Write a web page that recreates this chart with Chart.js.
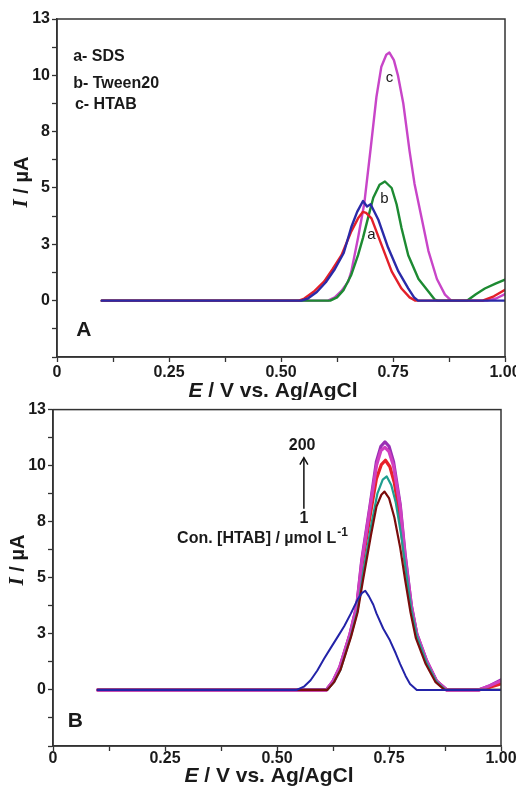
<!DOCTYPE html>
<html><head><meta charset="utf-8">
<script src="https://cdn.jsdelivr.net/npm/chart.js@4.4.1/dist/chart.umd.min.js"></script>
<style>
html,body{margin:0;padding:0;background:#fff;width:516px;height:787px;overflow:hidden;position:relative}
canvas{position:absolute}
#cA{left:0;top:0}
#cB{left:-4px;top:398px}
</style></head><body>
<canvas id="cA" width="540" height="400"></canvas>
<canvas id="cB" width="540" height="389"></canvas>
<script>
// ---------- axis ticks ----------
const xTickValues = [0, 0.125, 0.25, 0.375, 0.5, 0.625, 0.75, 0.875, 1];
const xTickLabels = ['0', '', '0.25', '', '0.50', '', '0.75', '', '1.00'];
const yTickValues = [-2.6, -1.3, 0, 1.3, 2.6, 3.9, 5.2, 6.5, 7.8, 9.1, 10.4, 11.7, 13];
const yTickLabels = ['', '', '0', '', '3', '', '5', '', '8', '', '10', '', '13'];

// ---------- panel A : [E (V), I (uA)] ----------
const blankA = [[0.1,0],[0.545,0],[0.56,0.1],[0.58,0.4],[0.60,0.85],[0.62,1.45],[0.64,2.2],[0.657,3.4],[0.67,4.1],[0.683,4.6],[0.692,4.35],[0.70,4.45],[0.717,3.75],[0.739,2.45],[0.762,1.35],[0.784,0.57],[0.797,0.15],[0.806,0],[1.0,0]];
const sdsA = [[0.1,0],[0.54,0],[0.552,0.1],[0.575,0.45],[0.596,0.88],[0.615,1.45],[0.635,2.1],[0.657,3.2],[0.672,3.8],[0.683,4.1],[0.69,4.05],[0.702,3.8],[0.724,2.6],[0.747,1.35],[0.769,0.56],[0.787,0.15],[0.80,0],[0.95,0],[0.975,0.2],[1.0,0.5]];
const tweenA = [[0.1,0],[0.61,0],[0.625,0.15],[0.64,0.5],[0.657,1.2],[0.672,2.1],[0.683,2.9],[0.694,3.8],[0.706,4.75],[0.72,5.35],[0.732,5.5],[0.747,5.2],[0.758,4.45],[0.769,3.35],[0.784,2.1],[0.807,1.0],[0.829,0.42],[0.843,0.05],[0.85,0],[0.915,0],[0.935,0.3],[0.955,0.56],[0.98,0.8],[1.0,0.97]];
const htabA = [[0.1,0],[0.605,0],[0.62,0.15],[0.635,0.45],[0.65,0.88],[0.657,1.35],[0.672,2.9],[0.686,4.5],[0.70,7.0],[0.713,9.4],[0.724,10.8],[0.735,11.35],[0.742,11.45],[0.752,11.1],[0.761,10.4],[0.773,9.1],[0.787,6.9],[0.798,5.4],[0.814,3.8],[0.829,2.3],[0.848,1.0],[0.866,0.28],[0.88,0],[0.96,0],[0.98,0.1],[1.0,0.3]];

// ---------- panel B : [E (V), I (uA)] ----------
const blankB = [[0.1,0],[0.544,0],[0.56,0.15],[0.575,0.45],[0.59,0.9],[0.605,1.45],[0.62,1.95],[0.635,2.45],[0.65,2.95],[0.665,3.55],[0.68,4.2],[0.69,4.5],[0.697,4.6],[0.705,4.35],[0.715,3.95],[0.722,3.55],[0.737,2.85],[0.752,2.3],[0.765,1.7],[0.775,1.2],[0.787,0.65],[0.797,0.28],[0.812,0],[1.0,0]];
const htab1B = [[0.1,0],[0.612,0],[0.627,0.35],[0.642,0.95],[0.665,2.45],[0.68,3.6],[0.692,5.1],[0.71,7.2],[0.722,8.5],[0.733,9.05],[0.74,9.2],[0.75,8.9],[0.762,8.0],[0.775,6.6],[0.786,5.1],[0.798,3.6],[0.81,2.4],[0.832,1.2],[0.854,0.36],[0.874,0],[1.0,0]];
const htab2B = [[0.1,0],[0.612,0],[0.627,0.35],[0.642,0.95],[0.665,2.5],[0.68,3.7],[0.692,5.4],[0.71,7.6],[0.724,9.1],[0.736,9.75],[0.745,9.9],[0.755,9.5],[0.765,8.7],[0.777,7.2],[0.788,5.5],[0.80,3.7],[0.812,2.5],[0.834,1.25],[0.856,0.38],[0.876,0],[1.0,0]];
const htab3B = [[0.1,0],[0.61,0],[0.625,0.4],[0.64,1.05],[0.663,2.6],[0.678,3.9],[0.689,5.9],[0.708,8.5],[0.722,10.4],[0.732,11.1],[0.741,11.25],[0.75,11.05],[0.76,10.4],[0.775,8.5],[0.786,6.2],[0.80,3.9],[0.812,2.6],[0.834,1.35],[0.856,0.42],[0.879,0],[0.95,0],[0.975,0.2],[1.0,0.42]];
const htab4B = [[0.1,0],[0.61,0],[0.625,0.4],[0.64,1.05],[0.663,2.6],[0.678,3.9],[0.689,6.0],[0.708,8.6],[0.722,10.6],[0.732,11.3],[0.741,11.5],[0.75,11.3],[0.76,10.6],[0.775,8.6],[0.786,6.3],[0.80,3.9],[0.812,2.6],[0.834,1.35],[0.856,0.42],[0.879,0],[0.95,0],[0.975,0.2],[1.0,0.46]];
const htab5B = [[0.1,0],[0.61,0],[0.625,0.38],[0.64,1.0],[0.663,2.55],[0.678,3.8],[0.689,5.7],[0.708,8.1],[0.722,9.8],[0.733,10.45],[0.742,10.65],[0.752,10.35],[0.762,9.6],[0.775,7.9],[0.786,5.9],[0.80,3.8],[0.812,2.55],[0.834,1.3],[0.856,0.4],[0.879,0],[0.95,0],[0.975,0.12],[1.0,0.28]];

// ---------- text ----------
const xTitleMain = 'E';
const xTitleRest = ' / V vs. Ag/AgCl';
const yTitleMain = 'I';
const yTitleRest = ' / µA';

const SANS = "'Liberation Sans', Arial, Helvetica, sans-serif";
const SERIF = "'Liberation Serif', 'Times New Roman', serif";

const pts = arr => arr.map(([x, y]) => ({x, y}));
const ds = (label, arr, color, w) => ({label, data: pts(arr), borderColor: color, backgroundColor: color, borderWidth: w, pointRadius: 0, tension: 0, borderJoinStyle: 'round', borderCapStyle: 'round', fill: false});

const decorPlugin = {
  id: 'decor',
  afterDraw(chart, args, o) {
    const {ctx, chartArea: a, scales: {x, y}} = chart;
    ctx.save();
    ctx.strokeStyle = '#333'; ctx.lineWidth = 1.5;
    ctx.strokeRect(a.left, a.top, a.right - a.left, a.bottom - a.top);
    ctx.fillStyle = '#1a1a1a';
    ctx.textBaseline = 'middle';
    for (const t of o.texts) {
      ctx.font = t.font; ctx.textAlign = t.align || 'left';
      const px = x.getPixelForValue(t.e), py = y.getPixelForValue(t.i);
      ctx.fillText(t.text, px, py);
      if (t.sup) {
        const w = ctx.measureText(t.text).width;
        ctx.font = t.supFont; ctx.textAlign = 'left';
        ctx.fillText(t.sup, px + w + 1, py - 6);
      }
    }
    if (o.arrow) {
      const ax = x.getPixelForValue(o.arrow.e), y0 = y.getPixelForValue(o.arrow.from), y1 = y.getPixelForValue(o.arrow.to);
      ctx.strokeStyle = '#111'; ctx.lineWidth = 1.5;
      ctx.beginPath(); ctx.moveTo(ax, y0); ctx.lineTo(ax, y1); ctx.stroke();
      ctx.beginPath(); ctx.moveTo(ax - 4, y1 + 7); ctx.lineTo(ax, y1); ctx.lineTo(ax + 4, y1 + 7); ctx.stroke();
    }
    // x title (mixed italic)
    const fI = 'italic bold 21px ' + SANS, fR = 'bold 21px ' + SANS;
    ctx.font = fI; const w1 = ctx.measureText(xTitleMain).width;
    ctx.font = fR; const w2 = ctx.measureText(xTitleRest).width;
    let cx = (a.left + a.right) / 2 + o.xTitleShift - (w1 + w2) / 2;
    const ty = chart.height - o.xTitleFromBottom;
    ctx.textAlign = 'left';
    ctx.font = fI; ctx.fillText(xTitleMain, cx, ty);
    ctx.font = fR; ctx.fillText(xTitleRest, cx + w1, ty);
    // y title
    ctx.translate(o.yTitleX, o.yTitleY);
    ctx.rotate(-Math.PI / 2);
    const gI = 'italic bold 21px ' + SERIF, gR = 'bold 20px ' + SANS;
    ctx.font = gI; const v1 = ctx.measureText(yTitleMain).width;
    ctx.font = gR; const v2 = ctx.measureText(yTitleRest).width;
    let sx = -(v1 + v2) / 2;
    ctx.font = gI; ctx.fillText(yTitleMain, sx, 0);
    ctx.font = gR; ctx.fillText(yTitleRest, sx + v1, 0);
    ctx.restore();
  }
};

function makeChart(id, datasets, padTop, xAxisH, xTickPad, decor) {
  return new Chart(document.getElementById(id), {
    type: 'line',
    data: {datasets},
    options: {
      responsive: false, animation: false, devicePixelRatio: 1,
      layout: {padding: {top: padTop, left: 0, right: 35, bottom: 0}},
      plugins: {legend: {display: false}, tooltip: {enabled: false}, decor},
      scales: {
        x: {
          type: 'linear', min: 0, max: 1,
          afterBuildTicks: s => { s.ticks = xTickValues.map(v => ({value: v})); },
          afterFit: s => { s.height = xAxisH; },
          ticks: {autoSkip: false, maxRotation: 0, padding: xTickPad, color: '#1a1a1a', font: {family: SANS, size: 16, weight: 'bold'}, callback: (v, i) => xTickLabels[i]},
          grid: {drawOnChartArea: false, drawTicks: true, tickLength: 5, tickColor: '#333', tickWidth: 1.3},
          border: {display: true, color: '#333', width: 1.5}
        },
        y: {
          type: 'linear', min: -2.6, max: 13,
          afterBuildTicks: s => { s.ticks = yTickValues.map(v => ({value: v})); },
          afterFit: s => { s.width = 57; },
          ticks: {autoSkip: false, padding: 2, color: '#1a1a1a', font: {family: SANS, size: 16, weight: 'bold'}, callback: (v, i) => yTickLabels[i]},
          grid: {drawOnChartArea: false, drawTicks: true, tickLength: 5, tickColor: '#333', tickWidth: 1.3},
          border: {display: true, color: '#333', width: 1.5}
        }
      }
    },
    plugins: [decorPlugin]
  });
}

makeChart('cA', [
  ds('Blank', blankA, '#2a2aa8', 2.4),
  ds('a- SDS', sdsA, '#e3202a', 2.4),
  ds('b- Tween20', tweenA, '#1d8a32', 2.4),
  ds('c- HTAB', htabA, '#c845c8', 2.4)
], 19, 43, 1, {
  xTitleShift: -8, xTitleFromBottom: 9, yTitleX: 22, yTitleY: 182,
  texts: [
    {text: 'a- SDS', e: 0.036, i: 11.25, font: 'bold 16px ' + SANS},
    {text: 'b- Tween20', e: 0.036, i: 10.0, font: 'bold 16px ' + SANS},
    {text: 'c- HTAB', e: 0.04, i: 9.05, font: 'bold 16px ' + SANS},
    {text: 'A', e: 0.043, i: -1.35, font: 'bold 21px ' + SANS},
    {text: 'c', e: 0.742, i: 10.3, font: '15px ' + SANS, align: 'center'},
    {text: 'b', e: 0.731, i: 4.7, font: '15px ' + SANS, align: 'center'},
    {text: 'a', e: 0.702, i: 3.06, font: '15px ' + SANS, align: 'center'}
  ]
});

makeChart('cB', [
  ds('Blank', blankB, '#2323a8', 2),
  ds('HTAB 1', htab1B, '#7a0c0c', 2.2),
  ds('HTAB 2', htab2B, '#1f9e90', 2.2),
  ds('HTAB 3', htab3B, '#d040c0', 3.2),
  ds('HTAB 200', htab4B, '#9a2fb5', 3.2),
  ds('HTAB 4', htab5B, '#e8202a', 3.2)
], 11, 41, -2, {
  xTitleShift: -8, xTitleFromBottom: 11, yTitleX: 22, yTitleY: 162,
  texts: [
    {text: '200', e: 0.556, i: 11.33, font: 'bold 16px ' + SANS, align: 'center'},
    {text: '1', e: 0.56, i: 7.94, font: 'bold 16px ' + SANS, align: 'center'},
    {text: 'Con. [HTAB] / µmol L', e: 0.277, i: 7.0, font: 'bold 16px ' + SANS, sup: '-1', supFont: 'bold 12px ' + SANS},
    {text: 'B', e: 0.033, i: -1.44, font: 'bold 21px ' + SANS}
  ],
  arrow: {e: 0.56, from: 8.4, to: 10.77}
});
</script>
</body></html>
